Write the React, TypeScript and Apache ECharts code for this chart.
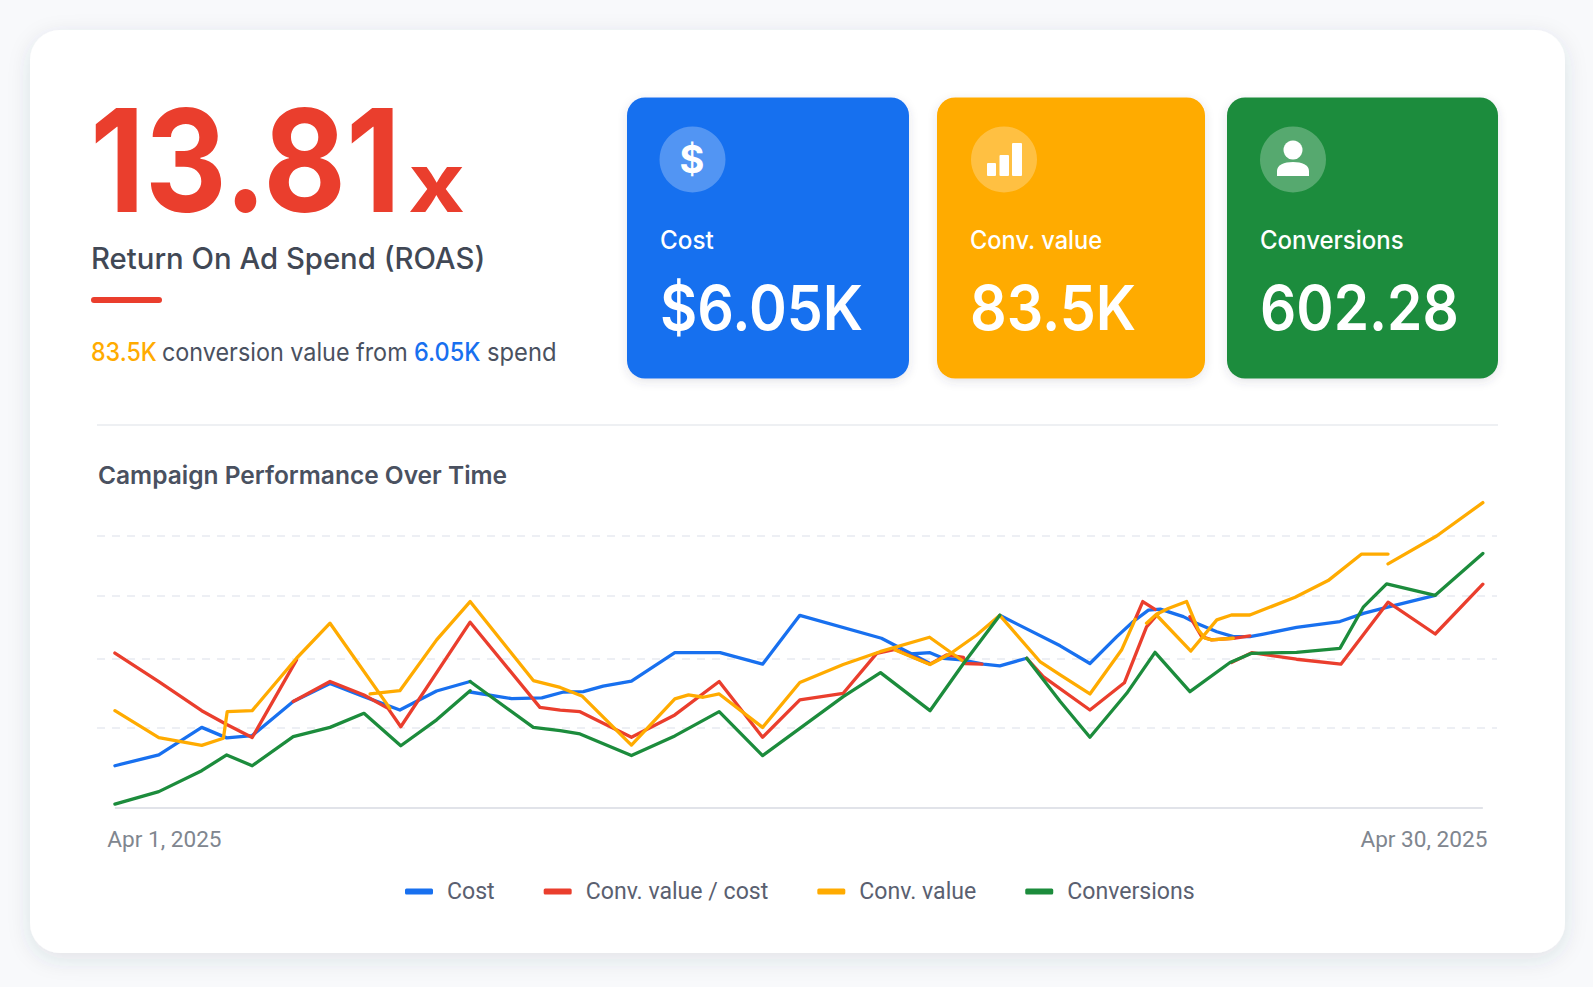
import React, { useEffect, useRef } from "react";
import * as echarts from "echarts";

const GAP: [null, null] = [null, null];

const tickLabels = ["Apr 1, 2025", "Apr 30, 2025"];
const tickPositions = [2.05, 28.75];
const seriesNames = ["Cost", "Conv. value / cost", "Conv. value", "Conversions"];
const gridValues = [82.9, 64.8, 45.5, 24.5];

const costPoints = [
  [1.0, 12.8], [1.93, 16.1], [2.84, 24.5], [3.37, 21.3], [3.91, 22.0], [4.78, 32.4], [5.56, 37.9], [6.28, 33.9], [7.04, 29.8], [7.82, 35.6], [8.53, 38.5], GAP,
  [8.53, 35.3], [9.41, 33.3], [10.05, 33.5], [10.51, 35.3], [10.93, 35.4], [11.35, 37.1], [11.95, 38.6], [12.87, 47.3], [13.83, 47.3], [14.73, 43.8], [15.52, 58.7], [17.25, 51.7], [18.28, 44.0], GAP,
  [17.85, 46.9], [18.28, 47.3], [18.56, 45.6], [18.95, 45.1], [19.41, 43.8], [19.76, 43.3], [20.33, 45.6], GAP,
  [19.76, 58.7], [21.04, 49.4], [21.67, 44.0], [22.24, 52.2], [22.59, 56.8], [22.91, 60.3], [23.16, 60.6], [23.65, 58.3], [23.93, 56.3], [24.36, 53.7], [24.71, 52.2], [25.06, 52.2], [25.35, 53.0], [26.05, 55.0], [26.97, 56.8], [27.47, 59.3], [27.96, 61.1], [28.99, 64.8],
];

const roasPoints = [
  [1.0, 47.2], [1.93, 38.5], [2.84, 29.6], [3.37, 25.4], [3.91, 21.4], [4.85, 45.1], GAP,
  [4.78, 32.4], [5.56, 38.5], [6.28, 34.4], [6.79, 30.3], [7.06, 24.7], [8.53, 56.6], [10.01, 30.6], [10.44, 29.8], [10.86, 29.3], [11.95, 21.5], [12.87, 28.3], [13.81, 38.5], [14.73, 21.5], [15.52, 32.9], [16.44, 34.9], [17.15, 47.1], [17.54, 48.3], [18.28, 43.8], [18.63, 46.6], [18.99, 45.9], [19.02, 44.0], [19.38, 43.8], GAP,
  [20.33, 45.6], [20.68, 40.0], [21.67, 29.8], [22.4, 38.1], [22.87, 55.2], [23.12, 59.3], GAP,
  [22.63, 57.5], [22.79, 62.9], [23.05, 60.5], GAP,
  [23.79, 58.3], [24.04, 52.2], [24.25, 51.2], [24.71, 51.7], [25.06, 52.4], GAP,
  [24.67, 44.3], [25.1, 47.3], [26.05, 45.3], [26.99, 43.8], [27.99, 62.7], [28.99, 53.0], [30.0, 68.2],
];

const valuePoints = [
  [1.0, 29.6], [1.93, 21.4], [2.84, 19.0], [3.3, 21.2], [3.38, 29.3], [3.91, 29.6], [4.85, 45.6], [5.56, 56.3], [6.83, 30.3], GAP,
  [6.41, 34.7], [7.04, 35.7], [7.82, 51.2], [8.53, 62.9], [9.87, 38.8], [10.44, 36.7], [10.9, 34.1], [11.95, 19.1], [12.87, 33.2], [13.16, 34.4], [13.47, 33.7], [13.81, 34.7], [14.73, 24.5], [15.52, 38.2], [16.44, 43.7], [17.22, 47.6], [18.27, 52.0], [18.99, 44.6], GAP,
  [17.54, 48.1], [18.28, 43.7], [18.7, 46.9], [19.27, 52.7], [19.76, 58.7], [20.61, 44.6], [21.04, 40.5], [21.67, 34.7], [22.34, 48.1], [22.63, 57.5], GAP,
  [23.08, 58.8], [23.81, 47.8], [24.36, 57.3], [24.67, 58.8], [25.06, 58.8], [26.02, 64.2], [26.72, 69.3], [27.43, 77.4], [27.99, 77.4], GAP,
  [27.99, 74.4], [29.02, 82.9], [30.0, 93.1], GAP,
  [22.87, 56.3], [23.08, 59.0], [23.33, 60.8], [23.72, 62.9], [23.97, 54.2], [24.11, 51.7], [24.25, 51.2], [24.71, 51.7],
];

const conversionPoints = [
  [1.0, 1.1], [1.93, 4.9], [2.84, 11.3], [3.37, 16.1], [3.91, 12.8], [4.78, 21.7], [5.56, 24.5], [6.28, 28.8], [7.06, 18.9], [7.82, 26.8], [8.53, 35.7], GAP,
  [8.53, 38.5], [9.87, 24.5], [10.44, 23.5], [10.86, 22.5], [11.95, 15.9], [12.87, 21.9], [13.81, 29.3], [14.73, 15.9], [16.44, 33.9], [17.23, 41.2], [18.28, 29.6], [18.99, 44.0], [19.76, 58.7], GAP,
  [20.33, 45.6], [21.04, 32.4], [21.67, 21.5], [22.45, 34.9], [23.05, 47.4], [23.79, 35.4], [24.64, 44.3], [25.1, 47.1], [26.05, 47.4], [26.97, 48.6], [27.47, 61.3], [27.96, 68.3], [28.99, 64.8], [30.0, 77.6],
];

const BLUE = "#1870ef";
const RED = "#ea3e2d";
const ORANGE = "#ffab00";
const GREEN = "#1c8c3c";
const HEAD = "Inter, 'Noto Sans', sans-serif";
const BODY = "Roboto, Arial, sans-serif";

echarts.graphic.registerShape(
  "personBody",
  echarts.graphic.extendPath("M0 14 L0 9 C0 3 7 0 16 0 C25 0 32 3 32 9 L32 14 Z", {})
);

function txt(text: string, x: number, y: number, font: string, fill: string, scaleX = 1, extra: any = {}) {
  return { type: "text", z: 3, x, y, scaleX, style: { text, x: 0, y: 0, font, fill, textVerticalAlign: "middle", ...extra } };
}

const graphics: any[] = [
  { type: "rect", z: 0, shape: { x: 30, y: 30, width: 1535, height: 923, r: 30 }, style: { fill: "#ffffff", shadowBlur: 22, shadowColor: "rgba(60,70,90,0.12)", shadowOffsetY: 6 } },
  txt("13.81", 90, 160, `700 143px ${HEAD}`, RED, 0.89, { lineHeight: 104 }),
  txt("x", 408, 182, `700 82px ${HEAD}`, RED, 1.2, { lineHeight: 58 }),
  txt("Return On Ad Spend (ROAS)", 91, 258, `500 29.3px ${HEAD}`, "#414855"),
  { type: "rect", z: 3, shape: { x: 91, y: 297, width: 71, height: 6, r: 3 }, style: { fill: RED } },
  txt("83.5K", 91, 352, `500 25px ${HEAD}`, ORANGE, 0.93),
  txt("conversion value from", 162, 352, `400 25px ${HEAD}`, "#4a5160", 0.935),
  txt("6.05K", 414, 352, `500 25px ${HEAD}`, BLUE, 0.94),
  txt("spend", 487, 352, `400 25px ${HEAD}`, "#4a5160", 0.95),
  { type: "line", z: 1, shape: { x1: 97, y1: 425, x2: 1498, y2: 425 }, style: { stroke: "#eef0f3", lineWidth: 2 } },
  txt("Campaign Performance Over Time", 98, 475, `600 24.5px ${HEAD}`, "#4a5160"),
];

const cards = [
  { x: 627, w: 282, color: BLUE, label: "Cost", value: "$6.05K", circle: 65.5, labelScale: 0.97, valueScale: 0.925 },
  { x: 937, w: 268, color: ORANGE, label: "Conv. value", value: "83.5K", circle: 67, labelScale: 0.945, valueScale: 0.925 },
  { x: 1227, w: 271, color: GREEN, label: "Conversions", value: "602.28", circle: 66, labelScale: 0.96, valueScale: 0.915 },
];
cards.forEach((c) => {
  graphics.push(
    { type: "rect", z: 1, shape: { x: c.x, y: 97.5, width: c.w, height: 281, r: 18 }, style: { fill: c.color, shadowBlur: 10, shadowColor: "rgba(60,70,90,0.14)", shadowOffsetY: 3 } },
    { type: "circle", z: 2, shape: { cx: c.x + c.circle, cy: 159.5, r: 33 }, style: { fill: "rgba(255,255,255,0.26)" } },
    txt(c.label, c.x + 33, 240, `500 25px ${HEAD}`, "#ffffff", c.labelScale),
    txt(c.value, c.x + 33, 307, `600 62px ${HEAD}`, "#ffffff", c.valueScale)
  );
});
graphics.push(
  txt("$", 692, 159, `700 38px ${HEAD}`, "#ffffff", 1, { textAlign: "center" }),
  { type: "rect", z: 3, shape: { x: 987, y: 163, width: 9, height: 13, r: 1 }, style: { fill: "#fff" } },
  { type: "rect", z: 3, shape: { x: 999.5, y: 155, width: 9.5, height: 21, r: 1 }, style: { fill: "#fff" } },
  { type: "rect", z: 3, shape: { x: 1012, y: 143, width: 10, height: 33, r: 1 }, style: { fill: "#fff" } },
  { type: "circle", z: 3, shape: { cx: 1293, cy: 150, r: 9.5 }, style: { fill: "#fff" } },
  { type: "personBody", z: 3, x: 1277, y: 162, style: { fill: "#fff" } }
);

function line(name: string, data: any[], color: string, z: number) {
  return {
    name, type: "line", data, z, symbol: "none", showSymbol: false, connectNulls: false, silent: true,
    lineStyle: { color, width: 3.3, cap: "round", join: "round" }, itemStyle: { color },
  };
}

export default function App() {
  const ref = useRef<HTMLDivElement>(null);
  useEffect(() => {
    const chart = echarts.init(ref.current!, undefined, { renderer: "svg" });
    const costSeries: any = line(seriesNames[0], costPoints, BLUE, 3);
    costSeries.markLine = {
      silent: true, symbol: "none", z: 1, label: { show: false }, animation: false,
      data: [
        ...gridValues.map((v) => ({ yAxis: v, lineStyle: { color: "#e8eaf1", width: 1.5, type: [8, 7] } })),
        [{ coord: [1, 0], lineStyle: { color: "#e1e3e9", width: 2, type: "solid" } }, { coord: [30, 0] }],
      ],
    };
    chart.setOption({
      animation: false,
      backgroundColor: "#f8f9fb",
      textStyle: { fontFamily: BODY },
      graphic: { elements: graphics },
      grid: { left: 97, right: 96, top: 480, height: 327.67 },
      xAxis: {
        type: "value", min: 0.62, max: 30.3,
        axisLine: { show: false }, axisTick: { show: false }, splitLine: { show: false },
        axisLabel: {
          show: true, color: "#80868f", fontSize: 22.6, fontFamily: BODY, margin: 20,
          customValues: tickPositions,
          formatter: (v: number) => tickLabels[tickPositions.indexOf(v)] ?? "",
        },
      },
      yAxis: { type: "value", min: 0, max: 100, show: false, splitLine: { show: false } },
      legend: {
        show: true, left: 400, top: 875, itemWidth: 28, itemHeight: 6, itemGap: 49, icon: "roundRect",
        data: seriesNames, selectedMode: false,
        textStyle: { color: "#5a6070", fontSize: 23.1, fontFamily: BODY, padding: [0, 0, 0, 9] },
      },
      series: [
        costSeries,
        line(seriesNames[1], roasPoints, RED, 4),
        line(seriesNames[2], valuePoints, ORANGE, 5),
        line(seriesNames[3], conversionPoints, GREEN, 6),
      ],
    });
    return () => chart.dispose();
  }, []);
  return <div ref={ref} style={{ position: "fixed", left: 0, top: 0, width: 1593, height: 987 }} />;
}
